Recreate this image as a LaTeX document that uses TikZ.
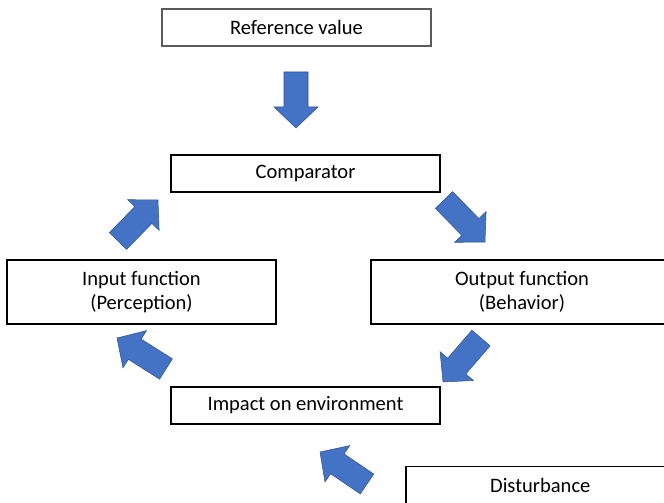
\documentclass[tikz,border=0pt]{standalone}
\usepackage{fontspec}
\setmainfont{Carlito}
\usetikzlibrary{calc}
\definecolor{arrowblue}{RGB}{68,114,196}
\definecolor{arrowedge}{RGB}{47,85,151}
\definecolor{boxgray}{RGB}{90,90,90}

% block arrow from tail (#1,#2) to tip (#3,#4), coordinates in pixel units
\newcommand\blockarrow[4]{%
  \pgfmathsetmacro\baang{atan2(-(#4-#2),#3-#1)}%
  \pgfmathsetmacro\balen{veclen(#3-#1,#4-#2)}%
  \begin{scope}[shift={(#1,#2)}, rotate=\baang]
    \filldraw[fill=arrowblue, draw=arrowedge, line width=0.4pt, line join=miter]
      (0,-12) -- (\balen-21,-12) -- (\balen-21,-22) -- (\balen,0)
      -- (\balen-21,22) -- (\balen-21,12) -- (0,12) -- cycle;
  \end{scope}}

\begin{document}
\begin{tikzpicture}[x=0.75pt, y=-0.75pt,
  box/.style={draw=black, line width=1.2pt, fill=white, align=center,
    minimum width=269*0.75pt, minimum height=37*0.75pt, inner sep=0pt,
    font=\fontsize{15.4}{18}\selectfont},
  tallbox/.style={box, minimum height=64*0.75pt}]
  \useasboundingbox (0,0) rectangle (664,503);
  \clip (0,0) rectangle (664,503);

  \node[box, draw=boxgray] (ref) at (296.5,27.5) {Reference value};
  \node[box] (comp) at (305.5,173.5) {Comparator};
  \node[tallbox] (inp) at (141.5,292) {Input function\\(Perception)};
  \node[tallbox, minimum width=302*0.75pt] (out) at (522,292) {Output function\\(Behavior)};
  \node[box] (imp) at (305.5,405.5) {Impact on environment};
  \node[box, anchor=west] (dist) at (405,485) {Disturbance};

  \blockarrow{296}{72}{296}{128}
  \blockarrow{444}{200}{485}{242}
  \blockarrow{481}{338}{443}{382}
  \blockarrow{166}{369}{117}{338}
  \blockarrow{118}{241}{158}{200}
  \blockarrow{367}{484}{320}{452}
\end{tikzpicture}
\end{document}
